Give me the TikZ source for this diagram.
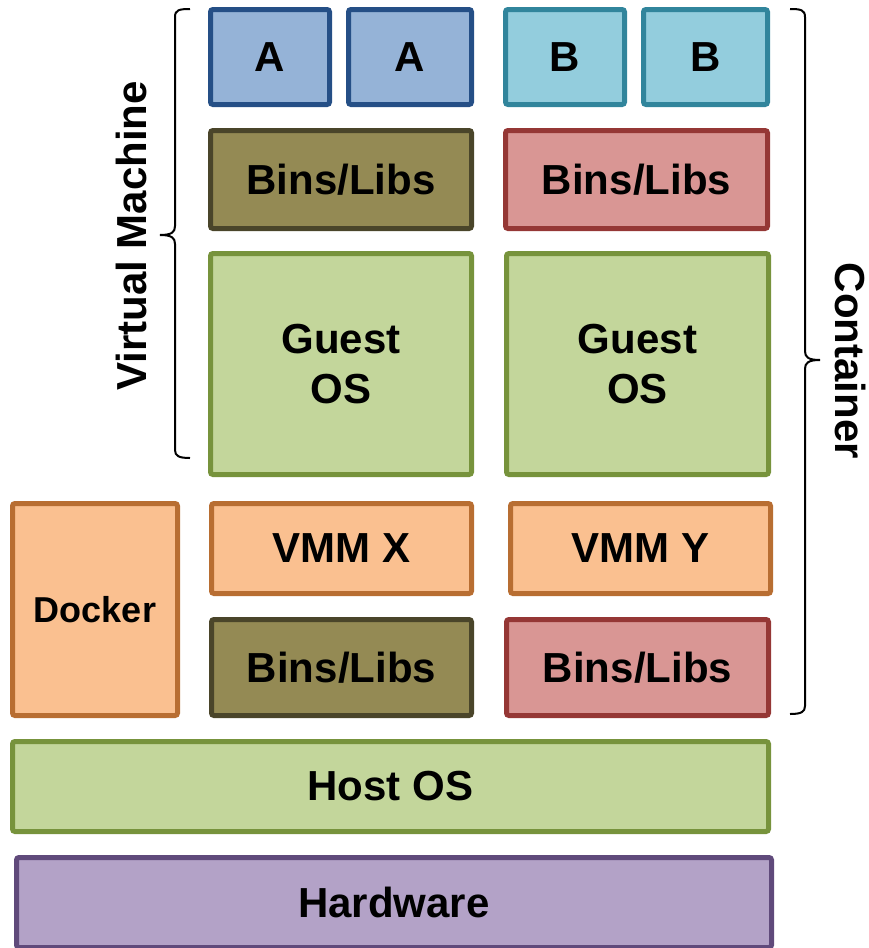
\documentclass[tikz,border=0pt]{standalone}
\usepackage{fontspec}
\setmainfont{Liberation Sans}
\definecolor{aFill}{HTML}{95B3D7}
\definecolor{aLine}{HTML}{254F86}
\definecolor{bFill}{HTML}{93CDDD}
\definecolor{bLine}{HTML}{31859C}
\definecolor{oFill}{HTML}{948A54}
\definecolor{oLine}{HTML}{4A452A}
\definecolor{rFill}{HTML}{D99694}
\definecolor{rLine}{HTML}{953735}
\definecolor{gFill}{HTML}{C3D69B}
\definecolor{gLine}{HTML}{77933C}
\definecolor{pFill}{HTML}{FAC090}
\definecolor{pLine}{HTML}{B86E32}
\definecolor{hFill}{HTML}{B3A2C7}
\definecolor{hLine}{HTML}{604A7B}
\tikzset{
  blk/.style={draw, line width=5pt, rounded corners=2.5pt, inner sep=0pt,
    align=center, font=\bfseries\fontsize{42}{50}\selectfont},
  appA/.style={blk, fill=aFill, draw=aLine},
  appB/.style={blk, fill=bFill, draw=bLine},
  libO/.style={blk, fill=oFill, draw=oLine},
  libR/.style={blk, fill=rFill, draw=rLine},
  osbox/.style={blk, fill=gFill, draw=gLine},
  vmmbox/.style={blk, fill=pFill, draw=pLine},
  hwbox/.style={blk, fill=hFill, draw=hLine},
  brace/.style={line width=2pt, black},
  bracelabel/.style={font=\bfseries\fontsize{42}{50}\selectfont}
}
% \blk{name}{x1}{y1}{x2}{y2}{style}{text}: box by its outer edges
\newcommand\blkbox[7]{%
  \node[#6, minimum width={#4-#2-5}, minimum height={#5-#3-5}]
    (#1) at ({(#2+#4)/2},{(#3+#5)/2}) {#7};}
\begin{document}
\begin{tikzpicture}[x=1pt,y=-1pt]
\useasboundingbox (0,0) rectangle (868,948);
% applications
\blkbox{a1}{208}{7}{332}{107}{appA}{A}
\blkbox{a2}{346}{7}{474}{107}{appA}{A}
\blkbox{b1}{503}{7}{627}{107}{appB}{B}
\blkbox{b2}{641}{7}{770}{107}{appB}{B}
% guest libraries
\blkbox{libvmA}{208}{128}{474}{231}{libO}{Bins/Libs}
\blkbox{libvmB}{503}{128}{770}{231}{libR}{Bins/Libs}
% guest operating systems
\blkbox{gosA}{208}{251}{474}{477}{osbox}{Guest\\OS}
\blkbox{gosB}{504}{251}{771}{477}{osbox}{Guest\\OS}
% engines
\blkbox{docker}{10}{501}{180}{718}{vmmbox}{\fontsize{36}{42}\selectfont Docker}
\blkbox{vmmX}{209}{501}{474}{596}{vmmbox}{VMM X}
\blkbox{vmmY}{508}{501}{773}{596}{vmmbox}{VMM Y}
% container libraries
\blkbox{libcA}{209}{617}{474}{718}{libO}{Bins/Libs}
\blkbox{libcB}{504}{617}{771}{718}{libR}{Bins/Libs}
% host
\blkbox{host}{10}{739}{771}{834}{osbox}{Host OS}
\blkbox{hw}{14}{855}{774}{950}{hwbox}{Hardware}
% virtual machine brace
\draw[brace] (190,9) .. controls (179,9) and (175,10) .. (175,17)
  -- (175,226) .. controls (175,232) and (172,235) .. (160,235)
  .. controls (172,235) and (175,238) .. (175,244)
  -- (175,450) .. controls (175,456) and (179,458) .. (190,458);
\node[bracelabel, rotate=90] (vmlabel) at (131,236) {Virtual Machine};
% container brace
\draw[brace] (790,9) .. controls (801,9) and (805,10) .. (805,17)
  -- (805,351) .. controls (805,357) and (808,360) .. (820,360)
  .. controls (808,360) and (805,363) .. (805,369)
  -- (805,706) .. controls (805,712) and (801,714) .. (790,714);
\node[bracelabel, rotate=-90] (ctlabel) at (851,361) {Container};
\end{tikzpicture}
\end{document}
